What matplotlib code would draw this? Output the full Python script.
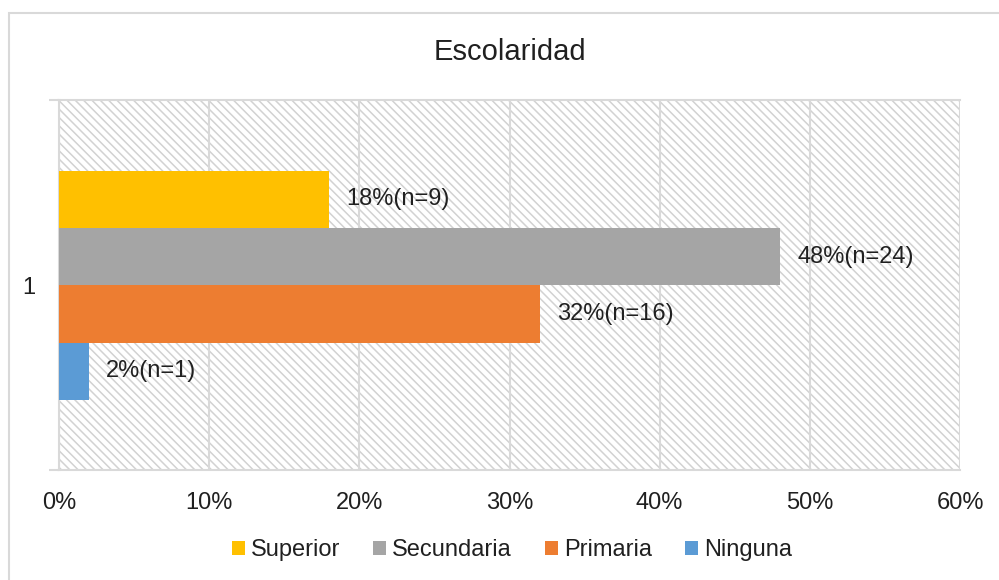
import matplotlib
matplotlib.use('Agg')
from matplotlib import pyplot as plt
from matplotlib.patches import Rectangle

# data
niveles = ['Ninguna', 'Primaria', 'Secundaria', 'Superior']
porcentajes = [2, 32, 48, 18]
conteos = [1, 16, 24, 9]
colores = ['#5B9BD5', '#ED7D31', '#A5A5A5', '#FFC000']
xticks = [0, 10, 20, 30, 40, 50, 60]

plt.rcParams['font.family'] = ['Liberation Sans', 'DejaVu Sans']
plt.rcParams['hatch.linewidth'] = 1.1
plt.rcParams['hatch.color'] = '#D2D2D2'

W, H = 999, 580
fig = plt.figure(figsize=(W/100, H/100), dpi=100)

# outer frame of chart
fig.patches.append(Rectangle((8.5/W, -0.2), 1.2, (H-13)/H + 0.2, transform=fig.transFigure,
                             fill=False, edgecolor='#D9D9D9', linewidth=1.5))

ax = fig.add_axes([59/W, 1-470/H, (960-59)/W, (470-100)/H])
ax.set_facecolor('white')
bg = Rectangle((0, 0), 1, 1, transform=ax.transAxes, facecolor='white',
               edgecolor='#D2D2D2', hatch='\\\\\\\\', linewidth=0, zorder=0)
ax.add_patch(bg)

ypos = [0, 1, 2, 3]
for i in range(len(niveles)):
    ax.barh(ypos[i], porcentajes[i], height=1.0, color=colores[i], label=niveles[i], zorder=3)
    ax.text(porcentajes[i] + 1.15, ypos[i], '%d%%(n=%d)' % (porcentajes[i], conteos[i]),
            va='center', ha='left', fontsize=17, color='#202020', zorder=4)

ax.set_xlim(0, 60)
ax.set_ylim(-1.72, 4.73)
ax.set_xticks(xticks)
ax.set_xticklabels(['%d%%' % v for v in xticks], fontsize=17, color='#202020')
ax.tick_params(axis='x', length=0, pad=16)
ax.xaxis.grid(True, color='#D9D9D9', linewidth=1.5, zorder=1)
ax.set_axisbelow(True)

ax.set_yticks([-1.72, 4.73])
ax.set_yticklabels(['', ''])
ax.set_yticks([1.5], minor=True)
ax.set_yticklabels(['1'], minor=True, fontsize=17, color='#202020')
ax.tick_params(axis='y', which='major', length=7, color='#D9D9D9', width=1.5)
ax.tick_params(axis='y', which='minor', length=0, pad=17)

for s in ['top', 'right']:
    ax.spines[s].set_visible(False)
ax.spines['left'].set_color('#D9D9D9')
ax.spines['left'].set_linewidth(1.5)
ax.spines['bottom'].set_color('#D9D9D9')
ax.spines['bottom'].set_linewidth(1.5)
ax.axhline(4.73, color='#D9D9D9', linewidth=1.5, zorder=2, clip_on=False)

fig.text(510/W, 1-52/H, 'Escolaridad', ha='center', va='center', fontsize=21, color='#202020')

h, l = ax.get_legend_handles_labels()
leg = fig.legend(h[::-1], l[::-1], loc='center', bbox_to_anchor=(512/W, 1-550/H), ncol=4,
                 frameon=False, fontsize=17, handlelength=0.55, handleheight=0.55,
                 handletextpad=0.25, columnspacing=1.4)
for t in leg.get_texts():
    t.set_color('#202020')

fig.savefig('out.png', dpi=100)
